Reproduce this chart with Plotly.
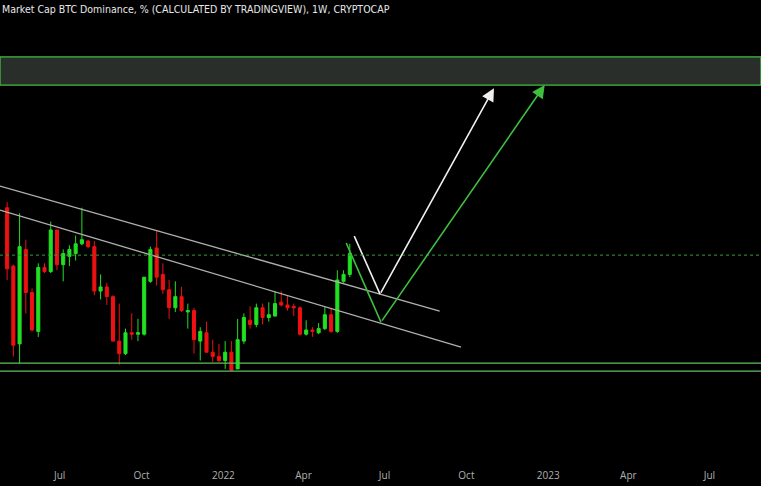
import pandas as pd
import plotly.graph_objects as go

# weekly candles, BTC dominance %
dates = pd.date_range('2021-05-03', periods=56, freq='7D')
opens = [50.4, 46.2, 40.6, 47.4, 44.3, 41.5, 46.1, 45.8, 48.8, 46.3, 46.9, 47.1, 47.8, 48.0,
         47.6, 44.4, 44.7, 44.0, 40.8, 39.9, 41.4, 41.3, 41.3, 45.1, 47.5, 45.6, 44.5, 43.2,
         44.0, 42.9, 43.0, 40.8, 41.4, 40.0, 39.7, 39.4, 40.0, 38.8, 40.8, 42.3, 42.0, 43.2,
         42.5, 42.6, 43.6, 43.4, 43.3, 43.2, 41.3, 41.6, 41.4, 41.7, 42.7, 41.5, 45.1, 45.6]
highs = [50.8, 46.3, 50.0, 48.1, 44.6, 46.4, 46.4, 49.4, 48.8, 47.4, 47.7, 48.4, 50.4, 48.1,
         48.0, 45.6, 45.0, 44.1, 43.5, 41.7, 42.8, 42.4, 45.4, 47.6, 48.8, 46.4, 45.2, 45.1,
         44.7, 43.5, 43.2, 41.8, 42.2, 40.9, 40.6, 40.8, 40.8, 42.4, 42.8, 43.3, 43.5, 43.5,
         43.6, 44.4, 44.4, 44.1, 43.5, 43.3, 42.3, 41.8, 42.1, 43.3, 43.2, 45.9, 45.9, 47.8]
lows = [45.2, 39.7, 39.2, 42.8, 41.5, 41.1, 45.7, 45.7, 45.9, 45.1, 46.2, 46.6, 47.7, 47.5,
        44.1, 43.8, 43.4, 40.8, 39.1, 39.8, 40.9, 40.8, 41.2, 45.0, 44.8, 44.2, 42.4, 42.9,
        42.9, 41.7, 39.9, 39.4, 40.0, 39.3, 39.3, 38.8, 38.7, 38.8, 40.6, 41.7, 41.8, 42.0,
        42.2, 42.6, 43.3, 43.0, 42.6, 41.2, 41.2, 41.1, 41.3, 41.6, 41.4, 41.4, 45.0, 45.4]
closes = [46.0, 40.5, 47.6, 44.3, 41.6, 46.1, 45.8, 48.8, 46.3, 47.1, 47.4, 47.8, 48.1, 47.6,
          44.4, 44.7, 44.0, 40.8, 39.9, 41.4, 41.3, 41.4, 45.4, 47.4, 45.4, 44.5, 43.2, 44.0,
          43.0, 43.0, 40.9, 41.5, 40.0, 39.7, 39.4, 40.0, 38.7, 40.9, 42.5, 42.0, 43.2, 42.5,
          42.7, 43.5, 43.4, 43.2, 43.2, 41.3, 41.6, 41.5, 41.7, 42.7, 41.5, 45.2, 45.6, 47.1]

# drawings
upper_line_x = ['2021-04-25', '2022-09-01']
upper_line_y = [51.96, 42.96]
lower_line_x = ['2021-04-25', '2022-09-25']
lower_line_y = [50.23, 40.37]
support_levels = [39.22, 38.64]
dotted_level = 46.99
zone = [59.23, 61.25]
white_path_x = ['2022-05-28', '2022-06-26', '2022-11-01']
white_path_y = [48.36, 44.18, 59.0]
green_path_x = ['2022-05-19', '2022-06-27', '2022-12-28']
green_path_y = [47.86, 42.17, 59.23]

tick_dates = ['2021-07-01', '2021-10-01', '2022-01-01', '2022-04-01', '2022-07-01',
              '2022-10-01', '2023-01-01', '2023-04-01', '2023-07-01']
tick_text = ['Jul', 'Oct', '2022', 'Apr', 'Jul', 'Oct', '2023', 'Apr', 'Jul']

GREEN = '#3fbf3f'

fig = go.Figure()
fig.add_trace(go.Candlestick(
    x=dates, open=opens, high=highs, low=lows, close=closes,
    increasing=dict(line=dict(color='#22e022', width=1), fillcolor='#22e022'),
    decreasing=dict(line=dict(color='#ee1111', width=1), fillcolor='#ee1111'),
    whiskerwidth=0, showlegend=False, hoverinfo='skip'))

for xs, ys in [(upper_line_x, upper_line_y), (lower_line_x, lower_line_y)]:
    fig.add_trace(go.Scatter(x=xs, y=ys, mode='lines', line=dict(color='#b0b0b0', width=1.3),
                             showlegend=False, hoverinfo='skip'))

fig.add_hrect(y0=zone[0], y1=zone[1], fillcolor='#2a2e2a', line=dict(color=GREEN, width=1.3), layer='below')
for lvl in support_levels:
    fig.add_hline(y=lvl, line=dict(color='#5fbf5f', width=1.3))
fig.add_hline(y=dotted_level, line=dict(color='#3a9a3a', width=1, dash='dot'))

for xs, ys, col in [(white_path_x, white_path_y, '#f0f0f0'), (green_path_x, green_path_y, GREEN)]:
    fig.add_trace(go.Scatter(x=xs[:2], y=ys[:2], mode='lines', line=dict(color=col, width=1.6),
                             showlegend=False, hoverinfo='skip'))
    fig.add_annotation(x=xs[2], y=ys[2], ax=xs[1], ay=ys[1], xref='x', yref='y', axref='x', ayref='y',
                       showarrow=True, arrowhead=2, arrowsize=1.6, arrowwidth=1.6, arrowcolor=col, text='')

fig.add_annotation(text='Market Cap BTC Dominance, % (CALCULATED BY TRADINGVIEW), 1W, CRYPTOCAP',
                   xref='paper', yref='paper', x=0, y=1, xanchor='left', yanchor='top', showarrow=False,
                   yshift=-1, font=dict(family='DejaVu Sans Condensed, Liberation Sans Narrow, sans-serif',
                                        size=10.5, color='#e8e8e8'))

fig.update_layout(
    width=761, height=486, paper_bgcolor='#000000', plot_bgcolor='#000000',
    margin=dict(l=0, r=0, t=0, b=24),
    xaxis=dict(range=['2021-04-25', '2023-08-28'], rangeslider=dict(visible=False), showgrid=False,
               zeroline=False, tickvals=tick_dates, ticktext=tick_text, ticklabelstandoff=6,
               tickfont=dict(family='Open Sans', size=10, color='#b0b0b0'), showline=False),
    yaxis=dict(range=[32.1, 65.35], visible=False, showgrid=False),
)
fig.write_html('out.html', config={'displayModeBar': False},
               post_script="document.body.style.margin='0';document.body.style.background='#000';")
